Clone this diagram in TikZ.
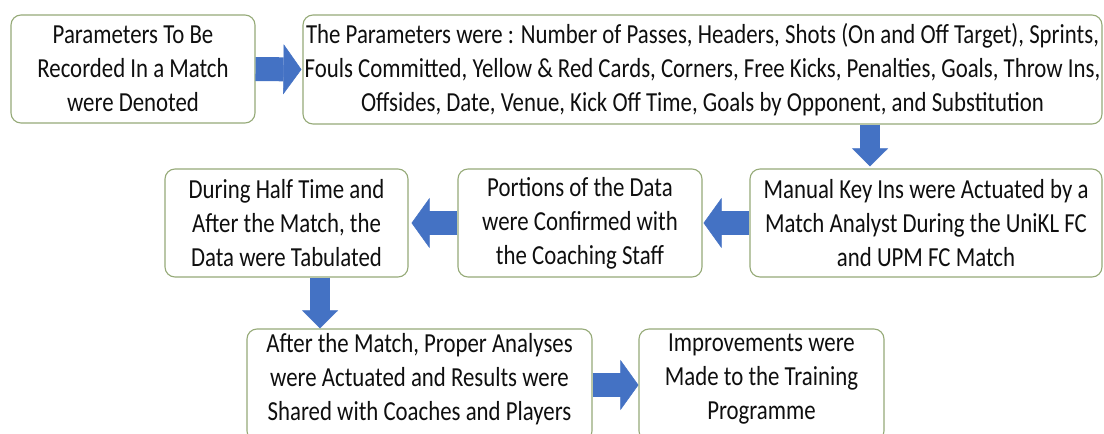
\documentclass[tikz,border=0pt]{standalone}
\usepackage{fontspec}
\setmainfont{Carlito}[FakeStretch=0.83]
\usetikzlibrary{arrows.meta}
\definecolor{boxline}{RGB}{150,170,120}
\definecolor{arrowblue}{RGB}{68,114,196}
\definecolor{txt}{RGB}{15,15,15}
\begin{document}
\begin{tikzpicture}[x=1pt,y=-1pt,
  box/.style={draw=boxline, line width=1.1pt, rounded corners=10pt, fill=white,
    align=center, inner sep=0pt, font=\fontsize{27.5}{34}\selectfont, text=txt},
  hbar/.style={draw=arrowblue, line width=24pt,
    -{Triangle[length=18pt,width=50pt,line width=0.5pt]}},
  vbar/.style={draw=arrowblue, line width=20pt,
    -{Triangle[length=18pt,width=36pt,line width=0.5pt]}}]
\useasboundingbox (0,0) rectangle (1104,434);
\clip (0,0) rectangle (1104,434);
\fill[white] (0,0) rectangle (1104,434);

\node[box, minimum width=244pt, minimum height=108pt] (b1) at (133,69)
  {Parameters To Be\\Recorded In a Match\\were Denoted};
\node[box, minimum width=799pt, minimum height=109pt] (b2) at (702.5,69.5)
  {The Parameters were : Number of Passes, Headers, Shots (On and Off Target), Sprints,\\
   Fouls Committed, Yellow \& Red Cards, Corners, Free Kicks, Penalties, Goals, Throw Ins,\\
   Offsides, Date, Venue, Kick Off Time, Goals by Opponent, and Substitution};
\node[box, minimum width=352pt, minimum height=108pt] (b3) at (926,223)
  {Manual Key Ins were Actuated by a\\Match Analyst During the UniKL FC\\and UPM FC Match};
\node[box, minimum width=244pt, minimum height=108pt] (b5) at (580,223)
  {Portions of the Data\\were Confirmed with\\the Coaching Staff};
\node[box, minimum width=243pt, minimum height=108pt] (b4) at (286.5,223)
  {During Half Time and\\After the Match, the\\Data were Tabulated};
\node[box, minimum width=345pt, minimum height=112pt] (b6) at (419.5,385)
  {After the Match, Proper Analyses\\were Actuated and Results were\\Shared with Coaches and Players\\[-17pt]\mbox{}};
\node[box, minimum width=245pt, minimum height=112pt] (b7) at (761.5,385)
  {Improvements were\\Made to the Training\\Programme\\[-17pt]\mbox{}};

\coordinate (c23) at (870,0);
\coordinate (c46) at (320,0);

\draw[hbar, shorten >=1pt] (b1.east) -- (b2.west);
\draw[vbar, shorten >=2pt] (b2.south -| c23) -- (b3.north -| c23);
\draw[hbar, shorten >=1pt] (b3.west) -- (b5.east);
\draw[hbar, shorten >=3pt] (b5.west) -- (b4.east);
\draw[vbar] (b4.south -| c46) -- (b6.north -| c46);
\draw[hbar] (b6.east) -- (b7.west);
\end{tikzpicture}
\end{document}
